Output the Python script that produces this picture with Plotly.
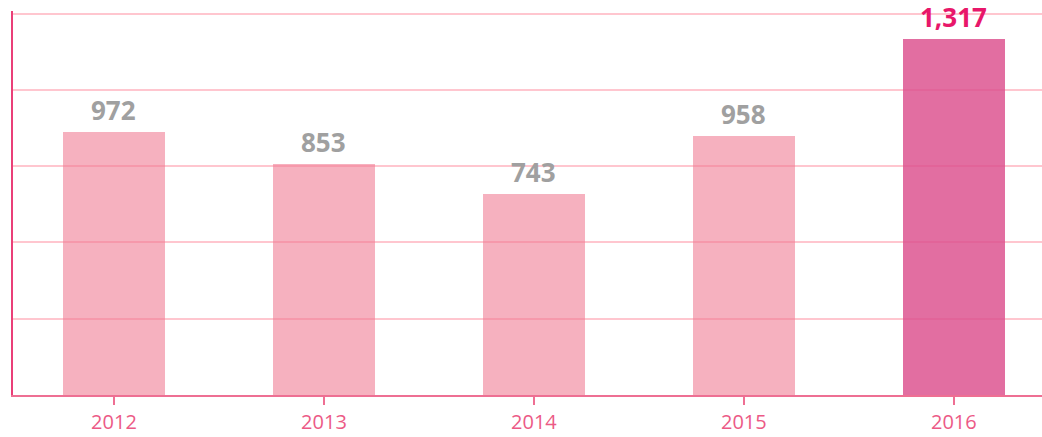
import plotly.graph_objects as go

years = ["2012", "2013", "2014", "2015", "2016"]
values = [972, 853, 743, 958, 1317]
labels = ["972", "853", "743", "958", "1,317"]
bar_colors = ["rgba(240,120,145,0.58)", "rgba(240,120,145,0.58)", "rgba(240,120,145,0.58)",
              "rgba(240,120,145,0.58)", "rgba(220,78,140,0.82)"]
label_colors = ["#a0a0a0", "#a0a0a0", "#a0a0a0", "#a0a0a0", "#e8176a"]

fig = go.Figure()
fig.add_trace(go.Bar(
    x=list(range(len(years))), y=values,
    width=0.486,
    marker=dict(color=bar_colors, line=dict(width=0)),
    hoverinfo="skip",
))

for i, (v, t, c) in enumerate(zip(values, labels, label_colors)):
    fig.add_annotation(x=i, y=v, text=f"<b>{t}</b>", showarrow=False,
                       yanchor="bottom", yshift=2,
                       font=dict(family="Open Sans", size=26, color=c))

fig.update_layout(
    width=1042, height=437,
    margin=dict(l=13, r=0, t=11, b=42, autoexpand=False),
    paper_bgcolor="white", plot_bgcolor="white",
    showlegend=False, bargap=0,
    xaxis=dict(
        range=[-0.481, 4.42],
        tickmode="array", tickvals=list(range(len(years))), ticktext=years,
        ticks="outside", ticklen=8, tickwidth=1.5, tickcolor="#ee6f93",
        tickfont=dict(family="Open Sans", size=20, color="#ec5a86"),
        showline=True, linecolor="#ee6f93", linewidth=2,
        showgrid=False, zeroline=False,
    ),
    yaxis=dict(
        range=[0, 1420], dtick=282, tick0=0,
        showticklabels=False, ticks="",
        showgrid=True, gridcolor="#ffc6cf", gridwidth=2,
        showline=True, linecolor="#ea3f78", linewidth=2,
        zeroline=False,
    ),
)

fig.write_html(
    "out.html",
    config={"displayModeBar": False},
    post_script="document.body.style.margin='0';document.body.style.overflow='hidden';",
)
